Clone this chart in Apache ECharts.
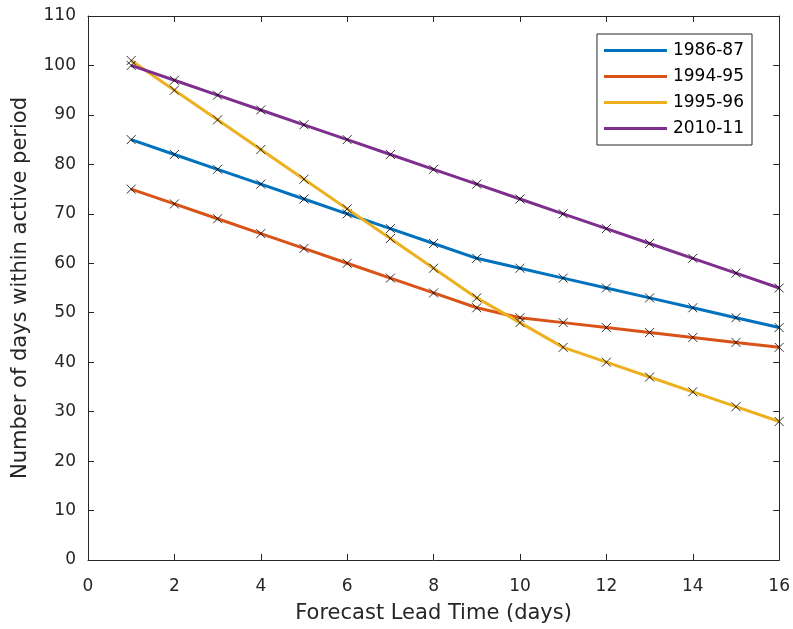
<!DOCTYPE html>
<html>
<head>
<meta charset="utf-8">
<script src="https://cdn.jsdelivr.net/npm/echarts@6/dist/echarts.min.js"></script>
<style>html,body{margin:0;padding:0;background:#fff}#c{width:793px;height:629px}</style>
</head>
<body>
<div id="c"></div>
<script>
const leadDays = [1,2,3,4,5,6,7,8,9,10,11,12,13,14,15,16];
const seriesNames = ['1986-87','1994-95','1995-96','2010-11'];
const s1986 = [85,82,79,76,73,70,67,64,61,59,57,55,53,51,49,47];
const s1994 = [75,72,69,66,63,60,57,54,51,49,48,47,46,45,44,43];
const s1995 = [101,95,89,83,77,71,65,59,53,48,43,40,37,34,31,28];
const s2010 = [100,97,94,91,88,85,82,79,76,73,70,67,64,61,58,55];
const xTicks = [0,2,4,6,8,10,12,14,16];
const yTicks = [0,10,20,30,40,50,60,70,80,90,100,110];
const colors = ['#0072BD','#D95319','#EDB120','#7E2F8E'];
const allValues = [s1986, s1994, s1995, s2010];

const FONT = 'DejaVu Sans, Liberation Sans, sans-serif';
const TXT = '#262626';
const series = [];
allValues.forEach((vals, i) => {
  const pts = leadDays.map((d, k) => [d, vals[k]]);
  series.push({
    name: seriesNames[i], type: 'line', data: pts, symbol: 'none',
    lineStyle: {color: colors[i], width: 3}, itemStyle: {color: colors[i]},
    z: 2 + i * 2, animation: false
  });
  series.push({
    name: seriesNames[i] + ' markers', type: 'scatter', data: pts,
    symbol: 'path://M0,0L10,10M10,0L0,10', symbolSize: 9,
    itemStyle: {color: 'none', borderColor: '#000', borderWidth: 1},
    z: 3 + i * 2, animation: false, silent: true
  });
});

const tick = {show: true, inside: true, length: 6, lineStyle: {color: TXT}};
const axisLine = {show: true, onZero: false, lineStyle: {color: TXT, width: 1}};
const xStep = xTicks[1] - xTicks[0], yStep = yTicks[1] - yTicks[0];
const xMin = xTicks[0], xMax = xTicks[xTicks.length - 1];
const yMin = yTicks[0], yMax = yTicks[yTicks.length - 1];

const chart = echarts.init(document.getElementById('c'), null, {renderer: 'canvas'});
chart.setOption({
  animation: false,
  backgroundColor: '#fff',
  grid: {left: 88, top: 16, right: 13, bottom: 68, containLabel: false},
  legend: {
    data: seriesNames.map(n => ({name: n})),
    orient: 'vertical', right: 41, top: 34,
    icon: 'rect', itemWidth: 63, itemHeight: 3, itemGap: 9,
    padding: [8, 8, 8, 7],
    borderColor: TXT, borderWidth: 1, backgroundColor: '#fff',
    textStyle: {fontFamily: FONT, fontSize: 17, color: '#000', padding: [0, 0, 0, 1]}
  },
  xAxis: [{
    type: 'value', min: xMin, max: xMax, interval: xStep,
    name: 'Forecast Lead Time (days)', nameLocation: 'middle', nameGap: 43,
    nameTextStyle: {fontFamily: FONT, fontSize: 21, color: TXT},
    axisLine: axisLine, axisTick: tick,
    axisLabel: {fontFamily: FONT, fontSize: 17, color: TXT, margin: 18},
    splitLine: {show: false}
  }, {
    type: 'value', min: xMin, max: xMax, interval: xStep, position: 'top',
    axisLine: axisLine, axisTick: tick,
    axisLabel: {show: false}, splitLine: {show: false}
  }],
  yAxis: [{
    type: 'value', min: yMin, max: yMax, interval: yStep,
    name: 'Number of days within active period', nameLocation: 'middle', nameGap: 57,
    nameTextStyle: {fontFamily: FONT, fontSize: 21, color: TXT},
    axisLine: axisLine, axisTick: tick,
    axisLabel: {fontFamily: FONT, fontSize: 17, color: TXT, margin: 12},
    splitLine: {show: false}
  }, {
    type: 'value', min: yMin, max: yMax, interval: yStep, position: 'right',
    axisLine: axisLine, axisTick: tick,
    axisLabel: {show: false}, splitLine: {show: false}
  }],
  series: series
});
</script>
</body>
</html>
